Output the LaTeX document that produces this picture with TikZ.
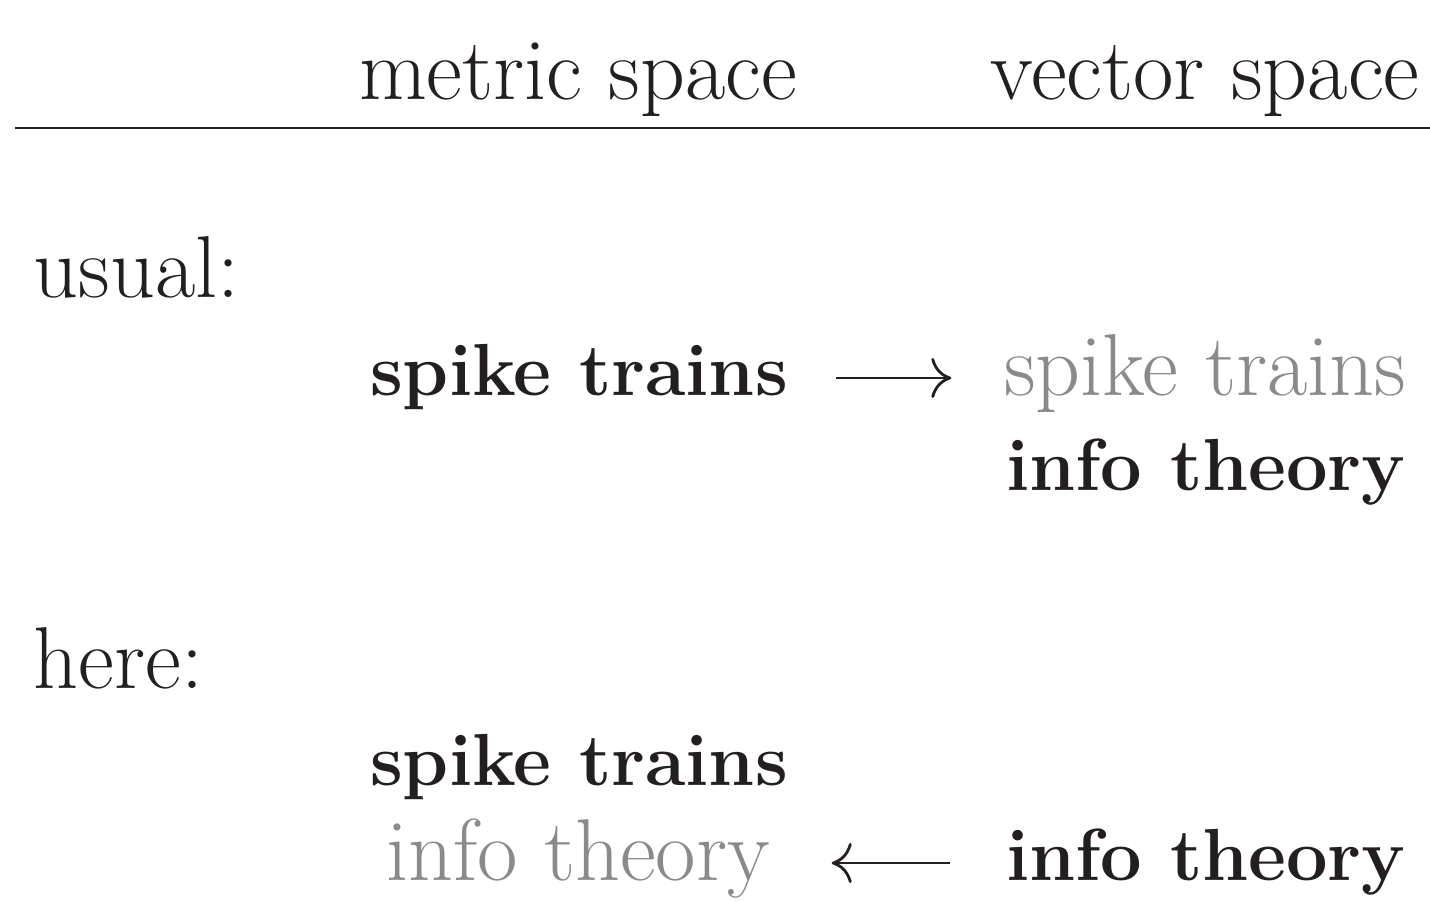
\documentclass[tikz,border=0pt]{standalone}
\usepackage{fontspec}
\usetikzlibrary{arrows.meta, positioning}

\definecolor{ink}{HTML}{231F20}
\definecolor{faded}{HTML}{8A8A8A}

\begin{document}
\begin{tikzpicture}[
  txt/.style={anchor=base,inner sep=0pt,text=ink,font=\fontsize{25}{30}\selectfont},
  rowlbl/.style={txt,anchor=base west},
  colhead/.style={txt},
  cell/.style={txt,minimum width=4.8cm,text height=0.50cm,text depth=0.16cm},
  boldcell/.style={cell,font=\fontsize{21}{26}\selectfont\bfseries},
  greycell/.style={cell,text=faded},
  arr/.style={-{Computer Modern Rightarrow[length=0.2cm,width=0.4cm]},line width=0.8pt,draw=ink}
]
  \useasboundingbox (0,0) rectangle (14.30,-9.01);

  % column heads
  \node[colhead](hmetric) at (5.78,-1.00){metric space};
  \node[colhead](hvector) at (12.05,-1.00){vector space};
  \coordinate (rulel) at (0.15,-1.28);
  \coordinate (ruler) at (14.30,-1.28);
  \draw[line width=0.6pt,ink](rulel)--(ruler);

  % usual
  \node[rowlbl](usual) at (0.33,-2.97){usual:};
  \node[boldcell](u1) at (5.79,-3.95){spike trains};
  \node[greycell](u2) at (12.05,-3.95){spike trains};
  \node[boldcell](u3) at (12.06,-4.90){info theory};
  \draw[arr,shorten <=0.16cm,shorten >=0.13cm](u1)--(u2);

  % here
  \node[rowlbl](here) at (0.33,-6.88){here:};
  \node[boldcell](h1) at (5.79,-7.85){spike trains};
  \node[greycell](h2) at (5.78,-8.80){info theory};
  \node[boldcell](h3) at (12.06,-8.80){info theory};
  \draw[arr,shorten <=0.15cm,shorten >=0.13cm](h3)--(h2);
\end{tikzpicture}
\end{document}
